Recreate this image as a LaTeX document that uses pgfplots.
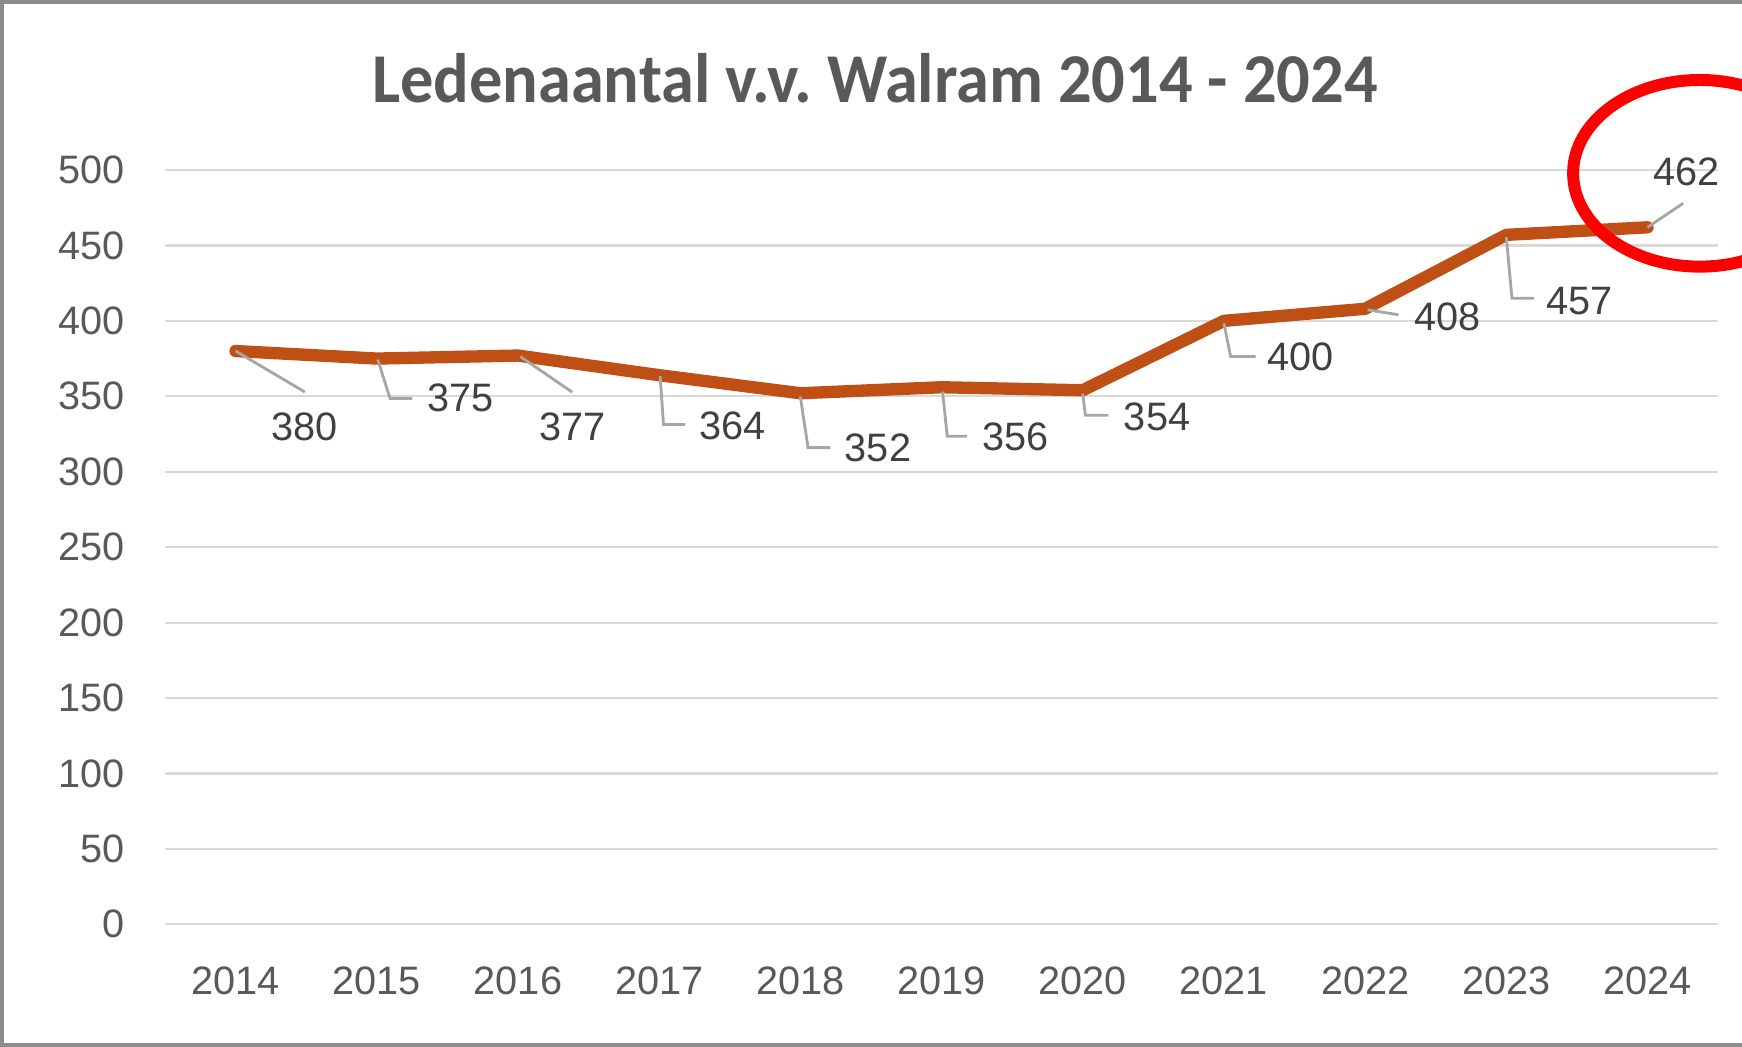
\documentclass[border=0pt]{standalone}
\usepackage{fontspec}
\setmainfont{Liberation Sans}
\newfontfamily\titlefont{Carlito}
\usepackage{graphicx}
\usepackage{pgfplots}
\pgfplotsset{compat=1.18}
\definecolor{linec}{HTML}{C04F15}
\definecolor{gridc}{HTML}{D9D9D9}
\definecolor{tickc}{HTML}{595959}
\definecolor{labc}{HTML}{404040}
\definecolor{leadc}{HTML}{A6A6A6}
\definecolor{framec}{HTML}{8C8C8C}
\newcommand\dl[4]{\node[font=\fontsize{11.9}{14}\selectfont, text=labc, inner sep=0pt] at ([xshift=#3pt,yshift=#4pt]axis cs:#1,#2) {#2};}
\newcommand\pt[4]{([xshift=#3pt,yshift=#4pt]axis cs:#1,#2)}
\begin{document}
\begin{tikzpicture}
\path[use as bounding box] (0,0) rectangle (522.67pt,314pt);
\begin{axis}[at={(49.5pt,36.67pt)}, anchor=south west, scale only axis,
  width=466pt, height=226.33pt,
  xmin=-0.5, xmax=10.5, ymin=0, ymax=500,
  xtick={0,...,10},
  xticklabels={2014,2015,2016,2017,2018,2019,2020,2021,2022,2023,2024},
  ytick={0,50,...,500},
  ymajorgrids, major grid style={gridc, line width=0.65pt},
  axis line style={draw=none}, major tick length=0pt,
  tick label style={font=\fontsize{11.9}{14}\selectfont, text=tickc},
  /pgf/number format/assume math mode=true,
  yticklabel style={anchor=east, inner sep=0pt, xshift=-12pt},
  xticklabel style={anchor=north, inner sep=0pt, yshift=-12.5pt},
  clip=false]
\addplot[linec, line width=3.7pt, line cap=round, line join=round] coordinates {
  (0,380) (1,375) (2,377) (3,364) (4,352) (5,356) (6,354) (7,400) (8,408) (9,457) (10,462)};
\begin{scope}[leadc, line width=0.85pt]
\draw \pt{0}{380}{0}{0} -- \pt{0}{380}{20.8}{-12.3};
\draw \pt{1}{375}{0.3}{-0.3} -- \pt{1}{375}{4}{-12} -- \pt{1}{375}{10.7}{-12};
\draw \pt{2}{377}{0.7}{-0.3} -- \pt{2}{377}{16.3}{-11};
\draw \pt{3}{364}{0.3}{-0.3} -- \pt{3}{364}{1.3}{-14.8} -- \pt{3}{364}{7.8}{-14.8};
\draw \pt{4}{352}{0}{-1} -- \pt{4}{352}{2.3}{-16.3} -- \pt{4}{352}{9}{-16.3};
\draw \pt{5}{356}{0.3}{-1.3} -- \pt{5}{356}{1.7}{-14.7} -- \pt{5}{356}{7.7}{-14.7};
\draw \pt{6}{354}{0}{-1} -- \pt{6}{354}{0.8}{-7.5} -- \pt{6}{354}{7.7}{-7.5};
\draw \pt{7}{400}{0}{-0.7} -- \pt{7}{400}{2}{-10.7} -- \pt{7}{400}{9.5}{-10.7};
\draw \pt{8}{408}{0.7}{-0.3} -- \pt{8}{408}{10}{-1.8};
\draw \pt{9}{457}{0}{-0.7} -- \pt{9}{457}{1.7}{-19} -- \pt{9}{457}{8.3}{-19};
\draw \pt{10}{462}{0}{0} -- \pt{10}{462}{10.7}{7.2};
\end{scope}
\dl{0}{380}{20.8}{-22.7}
\dl{1}{375}{25}{-11.7}
\dl{2}{377}{16.3}{-21.3}
\dl{3}{364}{22}{-15.3}
\dl{4}{352}{23.3}{-16.3}
\dl{5}{356}{22.2}{-15}
\dl{6}{354}{22.3}{-8}
\dl{7}{400}{23}{-10.7}
\dl{8}{408}{24.7}{-2.3}
\dl{9}{457}{22}{-20}
\dl{10}{462}{11.7}{16.7}
\end{axis}
\node[anchor=base, text=tickc, inner sep=0pt] at (262.5pt,283.3pt)
  {\resizebox{301.7pt}{\height}{\titlefont\bfseries\fontsize{21}{24}\selectfont Ledenaantal v.v.\ Walram 2014 - 2024}};
\draw[framec, line width=1.2pt] (540pt,313.4pt) -- (0.6pt,313.4pt) -- (0.6pt,0.6pt) -- (540pt,0.6pt);
\draw[red, line width=3.6pt] (510pt,262pt) ellipse [x radius=38pt, y radius=28pt];
\end{tikzpicture}
\end{document}
